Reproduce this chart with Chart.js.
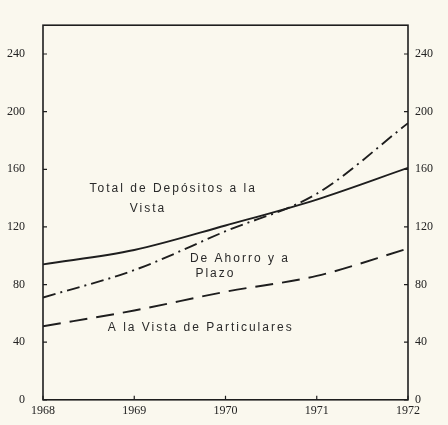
<!DOCTYPE html>
<html>
<head>
<meta charset="utf-8">
<script src="https://cdn.jsdelivr.net/npm/chart.js@4"></script>
<style>
  html, body { margin: 0; padding: 0; background: #faf8ee; }
  canvas { display: block; }
</style>
</head>
<body>
<canvas id="grafico" width="448" height="425"></canvas>
<script>
// años y series (millones)
var years = [1968, 1969, 1970, 1971, 1972];
var totalVista = [94, 104, 121, 139, 161];
var ahorroPlazo = [71, 90, 117, 143, 192];
var vistaParticulares = [51, 62, 75, 86, 105];
var yTicks = [0, 40, 80, 120, 160, 200, 240];

// rótulos dentro del gráfico, anclados en coordenadas de datos
var labels = [
    { text: 'Total de Depósitos a la', x: 1968.51, y: 146.5 },
    { text: 'Vista', x: 1968.95, y: 132.5 },
    { text: 'De Ahorro y a', x: 1969.61, y: 98 },
    { text: 'Plazo', x: 1969.67, y: 87.5 },
    { text: 'A la Vista de Particulares', x: 1968.71, y: 50 }
];

function toPoints(arr) {
    return arr.map(function (v, i) { return { x: years[i], y: v }; });
}

var ink = '#1e1e1e';
var tickFont = { family: 'Liberation Serif', size: 12 };

var marco = {
    id: 'marco',
    beforeDraw: function (chart) {
        var ctx = chart.ctx;
        ctx.save();
        ctx.fillStyle = '#faf8ee';
        ctx.fillRect(0, 0, chart.width, chart.height);
        ctx.restore();
    },
    afterDatasetsDraw: function (chart) {
        var ctx = chart.ctx;
        var a = chart.chartArea;
        var x = chart.scales.x, y = chart.scales.y;
        ctx.save();
        ctx.strokeStyle = ink;
        ctx.lineWidth = 1.6;
        ctx.strokeRect(a.left, a.top, a.right - a.left, a.bottom - a.top);
        ctx.lineWidth = 1.2;
        ctx.beginPath();
        yTicks.forEach(function (v) {
            var py = y.getPixelForValue(v);
            ctx.moveTo(a.left, py); ctx.lineTo(a.left + 4, py);
            ctx.moveTo(a.right, py); ctx.lineTo(a.right - 4, py);
        });
        years.forEach(function (v) {
            var px = x.getPixelForValue(v);
            ctx.moveTo(px, a.bottom); ctx.lineTo(px, a.bottom - 4);
        });
        ctx.stroke();

        ctx.fillStyle = '#2a2a2a';
        ctx.font = '12px "Liberation Sans"';
        ctx.letterSpacing = '2px';
        ctx.textBaseline = 'middle';
        ctx.textAlign = 'left';
        labels.forEach(function (l) {
            ctx.fillText(l.text, x.getPixelForValue(l.x), y.getPixelForValue(l.y));
        });
        ctx.restore();
    }
};

var ctx = document.getElementById('grafico').getContext('2d');
var chart = new Chart(ctx, {
    type: 'line',
    data: {
        datasets: [{
            label: 'Total de Depósitos a la Vista',
            data: toPoints(totalVista),
            borderColor: ink,
            borderWidth: 1.9,
            pointRadius: 0,
            cubicInterpolationMode: 'monotone'
        }, {
            label: 'De Ahorro y a Plazo',
            data: toPoints(ahorroPlazo),
            borderColor: ink,
            borderWidth: 1.9,
            borderDash: [13, 5, 2, 5],
            pointRadius: 0,
            cubicInterpolationMode: 'monotone'
        }, {
            label: 'A la Vista de Particulares',
            data: toPoints(vistaParticulares),
            borderColor: ink,
            borderWidth: 1.9,
            borderDash: [18, 9],
            pointRadius: 0,
            cubicInterpolationMode: 'monotone'
        }]
    },
    options: {
        responsive: false,
        animation: false,
        events: [],
        layout: { padding: { top: 12 } },
        plugins: { legend: { display: false }, tooltip: { enabled: false } },
        scales: {
            x: {
                type: 'linear',
                min: 1968,
                max: 1972,
                afterBuildTicks: function (s) { s.ticks = years.map(function (v) { return { value: v }; }); },
                afterFit: function (s) { s.height = 23; },
                grid: { display: false, drawTicks: false },
                border: { display: false },
                ticks: {
                    padding: 4,
                    color: '#222',
                    font: tickFont,
                    maxRotation: 0,
                    callback: function (v) { return String(v); }
                }
            },
            y: {
                position: 'left',
                min: 0,
                max: 260,
                afterBuildTicks: function (s) { s.ticks = yTicks.map(function (v) { return { value: v }; }); },
                afterFit: function (s) { s.width = 43; },
                grid: { display: false, drawTicks: false },
                border: { display: false },
                ticks: { padding: 18, color: '#222', font: tickFont }
            },
            y2: {
                position: 'right',
                min: 0,
                max: 260,
                afterBuildTicks: function (s) { s.ticks = yTicks.map(function (v) { return { value: v }; }); },
                afterFit: function (s) { s.width = 40; },
                grid: { display: false, drawTicks: false },
                border: { display: false },
                ticks: { padding: 7, color: '#222', font: tickFont }
            }
        }
    },
    plugins: [marco]
});
</script>
</body>
</html>
